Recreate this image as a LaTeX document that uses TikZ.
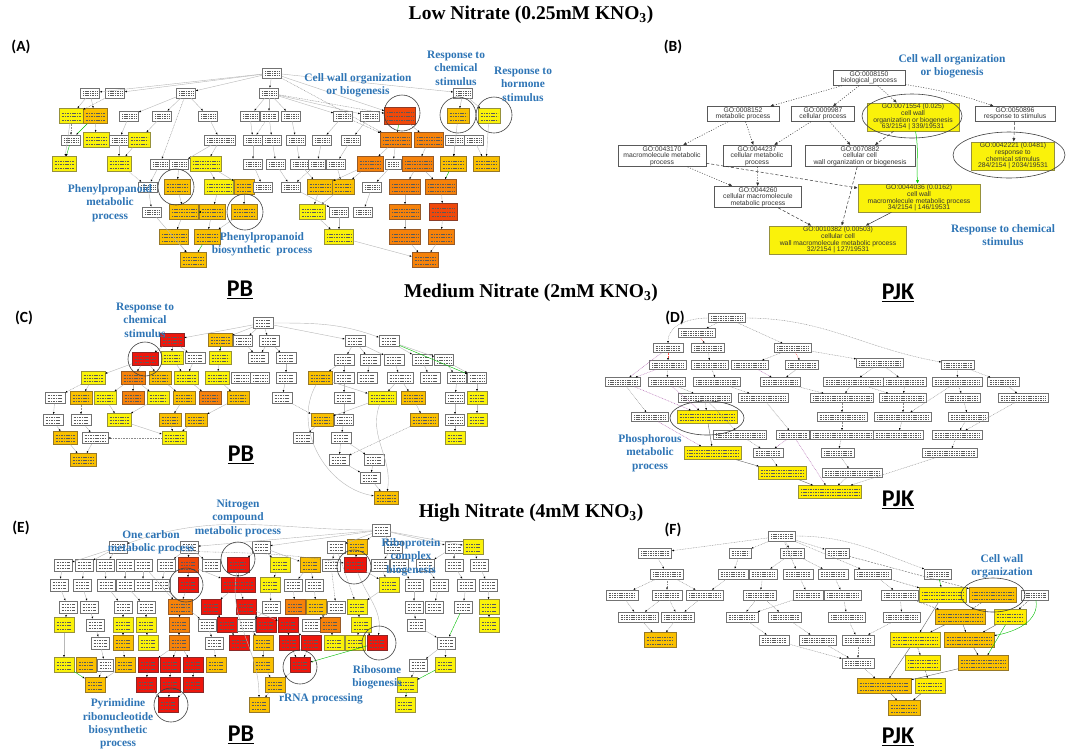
\documentclass[tikz,border=0pt]{standalone}
\usepackage{fontspec}
\setmainfont{Liberation Serif}
\newfontfamily\calib{Carlito}
\newfontfamily\arial{Liberation Sans}
\usetikzlibrary{arrows.meta,calc}
\definecolor{cY}{RGB}{250,242,10}
\definecolor{cYd}{RGB}{150,145,60}
\definecolor{cG}{RGB}{250,192,0}
\definecolor{cGd}{RGB}{150,120,40}
\definecolor{cO}{RGB}{246,130,10}
\definecolor{cOd}{RGB}{150,90,40}
\definecolor{cQ}{RGB}{240,72,10}
\definecolor{cQd}{RGB}{140,60,40}
\definecolor{cR}{RGB}{238,22,12}
\definecolor{cRd}{RGB}{140,40,40}
\definecolor{cB}{RGB}{46,117,182}
\definecolor{cT}{RGB}{90,90,90}
\newcommand\bfnt{\arial\fontsize{6.8}{6.6}\selectfont}
\newcommand\mknodes[1]{\foreach \n/\x/\y/\s/\w in {#1}{\edef\tmp{\noexpand\node[\s,minimum width=\w pt] (\n) at (\x,\y) {};}\tmp}}
\newcommand\mkedges[2]{\foreach \p/\q in {#2}{\draw[#1] (\p) -- (\q);}}
\begin{document}
\begin{tikzpicture}[x=1pt,y=-1pt,
 txtl/.style={draw=cT,line width=0.25pt,dash pattern=on 1.1pt off 0.6pt},
 txt/.style={path picture={
   \path (path picture bounding box.north west) coordinate (pnw) (path picture bounding box.south east) coordinate (pse);
   \foreach \f in {0.28,0.52,0.76}{\draw[txtl] ($(pnw)!\f!(pnw|-pse)+(2.5,0)$) -- ($(pse|-pnw)!\f!(pse)+(-2.5,0)$);}}},
 bx/.style={draw=black!55,line width=0.35pt,inner sep=0pt,minimum height=10pt,txt},
 nW/.style={bx,fill=white},
 nY/.style={bx,fill=cY,draw=cYd,minimum height=14pt},
 nG/.style={bx,fill=cG,draw=cGd,minimum height=14pt},
 nO/.style={bx,fill=cO,draw=cOd,minimum height=14pt},
 nQ/.style={bx,fill=cQ,draw=cQd,minimum height=17pt},
 nR/.style={bx,fill=cR,draw=cRd,minimum height=14pt},
 ge/.style={draw=black!28,line width=0.4pt,-{Latex[length=2.2pt,width=1.8pt,color=black]}},
 gd/.style={ge,draw=black!45,dash pattern=on 0.8pt off 0.8pt},
 gdk/.style={ge,draw=black!60,dash pattern=on 2pt off 1.2pt},
 gk/.style={ge,draw=black!60},
 gg/.style={ge,draw=green!75!black},
 gp/.style={gd,draw=violet!60},
 gr/.style={gd,draw=red!70},
 circ/.style={draw=black!75,line width=0.6pt},
 ttl/.style={font=\fontsize{19.5}{22}\selectfont\bfseries,inner sep=0pt},
 pbl/.style={font=\calib\bfseries\fontsize{24}{26}\selectfont,inner sep=0pt},
 plab/.style={font=\calib\bfseries\fontsize{15.5}{17}\selectfont,inner sep=0pt},
 blab/.style={font=\bfseries\fontsize{11.4}{13.4}\selectfont,text=cB,align=center,inner sep=0pt},
 bw/.style={draw=black!65,fill=white,line width=0.5pt,font=\bfnt,align=center,inner sep=1pt,text=black!80},
 by/.style={bw,fill=cY,draw=cYd},
 bdot/.style={draw=black!80,line width=0.5pt,dash pattern=on 1pt off 1.6pt,-{Latex[length=3.5pt,width=3pt]}},
 bdash/.style={bdot,dash pattern=on 3pt off 2pt},
 bsol/.style={bdot,solid},
 bgrn/.style={bsol,draw=green!80!black}]
\fill[white] (0,0) rectangle (1070,748);
\useasboundingbox (0,0) rectangle (1070,748);
% titles
\node[ttl] (t1) at (531,15) {Low Nitrate (0.25mM KNO\textsubscript{3})};
\node[ttl] (t2) at (531,293) {Medium Nitrate (2mM KNO\textsubscript{3})};
\node[ttl] (t3) at (531,513) {High Nitrate (4mM KNO\textsubscript{3})};
\node[pbl] (pb1) at (240,290) {\underline{PB}};
\node[pbl] (pj1) at (898,293) {\underline{PJK}};
\node[pbl] (pb2) at (241,455) {\underline{PB}};
\node[pbl] (pj2) at (898,500) {\underline{PJK}};
\node[pbl] (pb3) at (241,735) {\underline{PB}};
\node[pbl] (pj3) at (898,737) {\underline{PJK}};
\node[plab] (lA) at (21,47) {(A)};
\node[plab] (lB) at (673,47) {(B)};
\node[plab] (lC) at (24,318) {(C)};
\node[plab] (lD) at (675,318) {(D)};
\node[plab] (lE) at (21,528) {(E)};
\node[plab] (lF) at (673,530) {(F)};
% ---------------- panel A
\begin{scope}[nY/.append style={minimum height=15pt},nG/.append style={minimum height=15pt},nO/.append style={minimum height=15pt}]
\mknodes{a0/272/73/nW/19, a1/90/93/nW/19, a2/115/93/nW/19, a3/186/93/nW/19, a4/269/93/nW/19, a5/463/93/nW/19,
a6/71/116/nY/24, a7/95/116/nG/24, a8/129/116/nW/19, a9/162/116/nW/19, a10/208/116/nW/19, a11/250/116/nW/19, a12/269/116/nW/18, a13/291/116/nW/19, a14/343/116/nW/19, a15/370/116/nW/19, a16/400/116/nQ/31, a17/458/116/nG/22, a18/489/116/nY/22,
a19/71/140/nW/19, a20/96/140/nY/26, a21/119/140/nW/19, a22/139/140/nY/22, a23/220/140/nW/31, a24/253/140/nW/19, a25/272/140/nW/19, a26/296/140/nW/19, a27/322/140/nW/19, a28/351/140/nW/19, a29/396/140/nO/31, a30/429/140/nO/29, a31/455/140/nW/19, a32/474/140/nW/19,
a33/64/164/nY/24, a34/119/164/nY/24, a35/160/164/nW/19, a36/179/164/nW/19, a37/206/164/nY/31, a38/253/164/nW/19, a39/276/164/nW/19, a40/300/164/nW/19, a41/317/164/nW/17, a42/336/164/nW/19, a43/370/164/nO/26, a44/393/164/nW/16, a45/418/164/nO/31, a46/453/164/nG/26, a47/486/164/nG/26,
a48/148/187/nW/19, a49/177/187/nG/26, a50/219/187/nY/29, a51/244/187/nG/20, a52/263/187/nW/19, a53/291/187/nW/19, a54/320/187/nG/26, a55/343/187/nG/22, a56/372/187/nW/19, a57/405/187/nO/31, a58/441/187/nO/31,
a59/152/212/nW/19, a60/184/212/nG/29, a61/212/212/nG/26, a62/244/212/nG/26, a63/312/212/nY/26, a64/339/212/nW/19, a65/363/212/nW/19, a66/405/212/nO/31, a67/443/212/nQ/28,
a68/174/237/nG/29, a69/207/237/nG/26, a70/339/237/nY/29, a71/405/237/nO/31, a72/441/237/nO/26,
a73/193/260/nG/26, a74/425/260/nO/26}
\end{scope}
\mkedges{ge}{a0/a3, a0/a4, a0/a1, a0/a2, a0/a5, a0/a16, a1/a6, a1/a7, a3/a10, a3/a9, a3/a8, a4/a11, a4/a12, a4/a13, a4/a14, a4/a15, a5/a17, a5/a18, a7/a20, a6/a33, a8/a21, a9/a22, a21/a34, a22/a34, a10/a23, a11/a24, a12/a25, a13/a26, a14/a27, a15/a28, a16/a30, a17/a46, a18/a47, a23/a37, a23/a36, a24/a38, a25/a39, a26/a40, a27/a41, a28/a42, a29/a43, a30/a45, a29/a44, a35/a48, a36/a49, a37/a50, a37/a51, a38/a52, a39/a53, a40/a54, a42/a55, a43/a54, a43/a55, a44/a56, a45/a57, a45/a58, a48/a59, a49/a60, a50/a61, a51/a62, a54/a63, a55/a63, a56/a65, a53/a64, a57/a66, a58/a67, a60/a68, a61/a69, a62/a69, a63/a70, a64/a70, a66/a71, a67/a72, a68/a73, a71/a74, a72/a74, a70/a74, a59/a73, a31/a46, a32/a47}
\mkedges{gd}{a2/a6, a6/a19, a4/a16, a0/a29, a3/a35, a12/a24, a14/a29, a34/a48, a41/a53}
\mkedges{gg}{a19/a33, a7/a19, a16/a29, a46/a58, a69/a73, a61/a60}
\draw[circ] (402,113) circle[radius=18pt];
\draw[circ] (458,115) circle[radius=18pt];
\draw[circ] (494,115) circle[radius=18pt];
\draw[circ] (176,187) circle[radius=18pt];
\draw[circ] (245,212) circle[radius=18pt];
\node[blab] (la1) at (358,85) {Cell wall organization\\or biogenesis};
\node[blab] (la2) at (456,68) {Response to\\chemical\\stimulus};
\node[blab] (la3) at (523,84) {Response to\\hormone\\stimulus};
\node[blab] (la4) at (110,203) {Phenylpropanoid\\metabolic\\process};
\node[blab] (la5) at (262,244) {Phenylpropanoid\\biosynthetic\ \ process};
% ---------------- panel B
\node[bw,minimum width=72pt,minimum height=15pt] (b0) at (869,78) {GO:0008150\\biological\_process};
\node[bw,minimum width=72pt,minimum height=15pt] (b1) at (743,114) {GO:0008152\\metabolic process};
\node[bw,minimum width=63pt,minimum height=15pt] (b2) at (823,114) {GO:0009987\\cellular process};
\node[by,minimum width=92pt,minimum height=27pt] (b3) at (913,117) {GO:0071554 (0.025)\\cell wall\\organization or biogenesis\\63/2154 | 339/19531};
\node[bw,minimum width=80pt,minimum height=15pt] (b4) at (1015,114) {GO:0050896\\response to stimulus};
\node[bw,minimum width=88pt,minimum height=21pt] (b5) at (662,156) {GO:0043170\\macromolecule metabolic\\process};
\node[bw,minimum width=68pt,minimum height=21pt] (b6) at (757,156) {GO:0044237\\cellular metabolic\\process};
\node[bw,minimum width=110pt,minimum height=21pt] (b7) at (860,156) {GO:0070882\\cellular cell\\wall organization or biogenesis};
\node[by,minimum width=83pt,minimum height=27pt] (b8) at (1013,156) {GO:0042221 (0.0481)\\response to\\chemical stimulus\\284/2154 | 2034/19531};
\node[bw,minimum width=87pt,minimum height=21pt] (b9) at (758,197) {GO:0044260\\cellular macromolecule\\metabolic process};
\node[by,minimum width=122pt,minimum height=28pt] (b10) at (919,198) {GO:0044036 (0.0162)\\cell wall\\macromolecule metabolic process\\34/2154 | 146/19531};
\node[by,minimum width=137pt,minimum height=28pt] (b11) at (838,240) {GO:0010382 (0.00503)\\cellular cell\\wall macromolecule metabolic process\\32/2154 | 127/19531};
\mkedges{bdot}{b0/b1, b0/b2, b0/b3, b1/b5, b1/b6, b2/b6, b2/b7, b5/b9, b6/b9}
\draw[bdot] (b0) to[out=-10,in=160] (b4);
\mkedges{bdash}{b3/b7, b4/b8, b5/b10, b7/b11, b9/b11}
\mkedges{bsol}{b10/b11}
\draw[bgrn] (b3) to[out=-80,in=95] (b10);
\draw[circ] (912,116) ellipse[x radius=50pt,y radius=22pt];
\draw[circ] (1009,155) ellipse[x radius=56pt,y radius=23pt];
\node[blab] (lb1) at (952,66) {Cell wall organization\\or biogenesis};
\node[blab] (lb2) at (1003,235) {Response to chemical\\stimulus};
% ---------------- panel C
\begin{scope}[nW/.append style={minimum height=11pt},nY/.append style={minimum height=13pt},nG/.append style={minimum height=13pt},nO/.append style={minimum height=13pt},nR/.append style={minimum height=13pt}]
\mknodes{c0/263/323/nW/20, c1/172/340/nR/24, c2/220/340/nG/24, c3/243/341/nW/19, c4/269/341/nW/20, c5/355/341/nW/20, c6/389/341/nW/20,
c7/145/359/nR/26, c8/172/358/nY/22, c9/195/358/nW/20, c10/220/358/nY/22, c11/258/358/nW/20, c12/286/358/nW/20, c13/344/360/nW/20, c14/370/360/nW/20, c15/394/360/nW/20, c16/422/360/nW/20, c17/444/360/nW/19,
c18/93/378/nY/24, c19/133/378/nO/24, c20/160/378/nG/22, c21/186/378/nY/24, c22/217/378/nY/24, c23/241/378/nW/19, c24/260/378/nW/19, c25/286/378/nW/20, c26/320/378/nG/24, c27/344/378/nW/20, c28/367/378/nW/20, c29/400/378/nW/26, c30/430/378/nW/20, c31/457/378/nW/19, c32/477/378/nW/19,
c33/55/398/nW/20, c34/81/398/nG/22, c35/105/398/nY/22, c36/133/398/nO/22, c37/158/398/nY/22, c38/184/398/nG/22, c39/210/398/nO/22, c40/238/398/nG/22, c41/282/398/nW/20, c42/344/398/nW/20, c43/382/398/nY/28, c44/413/398/nG/24, c45/455/398/nW/19, c46/477/398/nY/20,
c47/53/420/nW/20, c48/81/420/nW/20, c49/119/420/nY/24, c50/170/420/nG/22, c51/196/420/nG/22, c52/322/420/nG/22, c53/344/420/nW/19, c54/424/420/nG/28, c55/455/420/nW/19, c56/477/420/nY/20,
c57/65/438/nG/24, c58/95/438/nW/26, c59/174/438/nY/24, c60/303/438/nW/20, c61/341/438/nW/20, c62/455/438/nY/20,
c63/83/460/nG/26, c64/339/460/nW/20, c65/374/460/nW/20, c66/370/478/nW/20, c67/386/498/nG/24}
\end{scope}
\mkedges{ge}{c0/c1, c0/c2, c0/c3, c0/c4, c0/c5, c1/c7, c1/c8, c1/c9, c4/c11, c4/c12, c5/c13, c5/c14, c5/c15, c6/c16, c6/c17, c7/c18, c7/c19, c7/c20, c8/c21, c9/c21, c10/c22, c12/c25, c13/c26, c13/c27, c14/c28, c15/c29, c16/c30, c17/c31, c17/c32, c18/c34, c19/c35, c19/c36, c19/c37, c20/c38, c21/c39, c22/c40, c25/c41, c26/c43, c27/c42, c29/c43, c29/c44, c31/c45, c32/c46, c33/c47, c35/c49, c37/c49, c38/c50, c40/c51, c42/c53, c43/c52, c44/c54, c45/c55, c49/c59, c50/c59, c51/c59, c52/c60, c53/c61, c57/c63, c58/c63, c61/c64, c61/c65, c64/c66, c65/c66, c66/c67, c55/c62, c46/c56}
\draw[ge] (c0) to[out=0,in=160] (c6);
\draw[ge] (c43) to[out=-110,in=80] (c67);
\draw[ge] (c26) to[out=-120,in=170] (c67);
\mkedges{gd}{c18/c33, c34/c48, c47/c57, c48/c58, c59/c58, c41/c52, c54/c64, c3/c11}
\mkedges{gg}{c2/c10, c6/c32}
\draw[circ] (145,359) circle[radius=17pt];
\node[blab] (lc1) at (145,320) {Response to\\chemical\\stimulus};
% ---------------- panel D
\begin{scope}[nW/.append style={minimum height=9pt},nY/.append style={minimum height=13pt,fill=yellow!95!orange}]
\mknodes{d0/727/318/nW/37, d1/697/333/nW/37, d2/668/348/nW/30, d3/708/348/nW/33, d4/793/348/nW/37, d5/668/365/nW/37, d6/710/365/nW/37, d7/750/365/nW/37, d8/802/365/nW/33, d9/880/363/nW/47, d10/958/365/nW/33, d11/623/382/nW/35, d12/667/382/nW/37, d13/717/382/nW/47, d14/780/382/nW/40, d15/853/382/nW/60, d16/905/382/nW/43, d17/957/382/nW/50, d18/1003/382/nW/32, d19/705/398/nW/53, d20/763/398/nW/50, d21/842/398/nW/63, d22/903/398/nW/47, d23/963/398/nW/35, d24/1023/398/nW/50, d25/650/417/nW/37, d26/707/417/nY/60, d27/842/417/nW/50, d28/903/417/nW/57, d29/968/417/nW/40, d30/740/435/nW/53, d31/793/435/nW/33, d32/842/435/nW/63, d33/898/435/nW/50, d34/957/435/nW/50, d35/713/453/nY/57, d36/768/453/nW/30, d37/838/453/nW/33, d38/950/453/nW/55, d39/782/473/nY/48, d40/852/473/nW/60, d41/830/492/nY/63}
\end{scope}
\mkedges{gd}{d0/d1, d0/d4, d3/d6, d4/d7, d4/d9, d9/d15, d9/d16, d10/d17, d10/d18, d5/d12, d6/d13, d8/d14, d12/d19, d13/d20, d14/d21, d15/d22, d16/d22, d17/d23, d18/d24, d19/d26, d11/d25, d21/d27, d22/d28, d23/d29, d19/d30, d20/d31, d27/d32, d28/d33, d29/d34, d30/d36, d32/d37, d34/d38, d36/d39, d37/d40, d40/d41, d38/d41, d24/d34, d15/d21, d17/d28}
\draw[gd] (d0) to[out=0,in=170] (d10);
\draw[gd] (d0) to[out=180,in=90] (d2);
\mkedges{gp}{d5/d11, d7/d14, d12/d26, d11/d26, d25/d35, d31/d36, d31/d41, d2/d11}
\mkedges{gr}{d1/d3, d4/d8, d2/d5}
\mkedges{gk}{d26/d35, d35/d39, d39/d41}
\draw[circ] (707,418) ellipse[x radius=37pt,y radius=17pt];
\node[blab] (ld1) at (650,453) {Phosphorous\\metabolic\\process};
% ---------------- panel E
\begin{scope}[nW/.append style={minimum height=12pt},nY/.append style={minimum height=15pt},nG/.append style={minimum height=15pt},nO/.append style={minimum height=15pt},nR/.append style={minimum height=15pt},nQ/.append style={minimum height=15pt}]
\mknodes{e0/381/530/nW/18,
e1/118/547/nW/18, e2/189/547/nW/18, e3/261/547/nW/18, e4/336/547/nW/18, e5/357/547/nG/20, e6/393/547/nW/18, e8/454/547/nW/18, e9/473/547/nY/20,
e10/63/565/nW/18, e11/84/565/nW/18, e12/105/565/nW/18, e13/125/565/nW/18, e14/143/565/nW/18, e15/166/565/nW/18, e16/188/565/nQ/20, e17/211/565/nW/18, e18/238/565/nR/22, e19/280/565/nY/20, e20/310/565/nG/20, e21/331/565/nW/18, e22/355/565/nR/22, e23/380/565/nW/18, e24/399/565/nW/18, e25/425/565/nW/18, e26/454/565/nW/18, e27/479/565/nW/18,
e28/59/585/nW/18, e29/82/585/nW/18, e30/106/585/nW/18, e31/125/585/nW/18, e32/143/585/nW/18, e108/161/585/nW/18, e33/188/585/nR/20, e34/238/585/nR/34, e35/270/585/nY/20, e36/293/585/nW/18, e37/314/585/nW/18, e38/389/585/nY/20, e39/414/585/nW/18, e40/439/585/nW/18, e41/466/585/nW/18, e42/488/585/nW/18,
e43/68/607/nW/18, e44/89/607/nW/18, e45/123/607/nW/18, e46/146/607/nW/18, e47/180/607/nO/24, e48/211/607/nR/20, e49/246/607/nR/20, e50/271/607/nW/18, e51/295/607/nO/20, e52/316/607/nG/20, e53/336/607/nW/18, e54/357/607/nY/20, e55/414/607/nW/18, e56/434/607/nW/18, e57/463/607/nW/18, e58/489/607/nY/20,
e59/64/625/nY/20, e60/95/625/nW/18, e61/123/625/nY/20, e62/146/625/nY/20, e63/179/625/nO/20, e64/207/625/nW/18, e65/227/625/nR/20, e66/246/625/nW/18, e67/266/625/nR/20, e68/288/625/nR/20, e69/311/625/nW/18, e70/330/625/nO/20, e71/361/625/nY/20, e72/416/625/nW/18, e73/489/625/nY/20,
e74/100/643/nW/18, e75/123/643/nG/20, e76/148/643/nY/20, e77/179/643/nO/20, e78/214/643/nW/18, e79/239/643/nR/20, e80/263/643/nG/20, e81/289/643/nR/20, e82/311/643/nR/20, e83/334/643/nY/20, e84/355/643/nY/20, e85/377/643/nR/20, e86/446/643/nW/18,
e87/64/665/nY/20, e88/86/665/nG/20, e89/105/665/nW/16, e90/125/665/nG/20, e91/148/665/nR/20, e92/170/665/nR/20, e93/193/665/nR/20, e94/216/665/nG/20, e95/263/665/nG/20, e96/300/665/nR/20, e97/418/665/nW/18, e98/445/665/nY/20,
e99/95/685/nG/20, e100/146/685/nR/20, e101/170/685/nR/20, e102/193/685/nR/20, e103/275/685/nG/20, e104/407/685/nY/20,
e105/168/705/nR/20, e106/259/705/nG/20, e107/405/705/nY/20}
\end{scope}
\mkedges{ge}{e0/e2, e0/e3, e0/e4, e0/e5, e0/e6, e0/e8, e0/e9, e1/e10, e1/e11, e1/e12, e2/e15, e2/e16, e2/e17, e3/e18, e3/e19, e3/e20, e4/e21, e5/e22, e6/e23, e6/e24, e8/e25, e8/e26, e9/e27, e10/e28, e11/e29, e12/e30, e13/e31, e14/e32, e15/e108, e16/e33, e18/e34, e16/e34, e19/e35, e20/e36, e20/e37, e22/e38, e24/e39, e25/e40, e26/e41, e27/e42, e28/e43, e29/e44, e30/e45, e31/e46, e33/e47, e34/e48, e34/e49, e35/e50, e36/e51, e37/e52, e38/e54, e39/e55, e40/e56, e41/e57, e42/e58, e44/e60, e45/e61, e46/e62, e47/e63, e48/e65, e49/e67, e49/e68, e50/e66, e52/e70, e53/e69, e54/e71, e55/e72, e58/e73, e60/e74, e61/e75, e62/e76, e63/e77, e64/e78, e65/e79, e66/e80, e68/e81, e68/e82, e70/e83, e71/e84, e71/e85, e72/e86, e59/e87, e74/e89, e75/e90, e77/e91, e77/e92, e77/e93, e78/e94, e80/e95, e81/e96, e82/e96, e86/e97, e86/e98, e89/e99, e90/e99, e91/e100, e92/e101, e93/e102, e95/e103, e96/e103, e97/e104, e101/e105, e100/e105, e102/e105, e103/e106}
\draw[ge] (e0) to[out=180,in=20] (e1);
\draw[ge] (e18) to[out=-100,in=90] (e106);
\draw[ge] (e22) to[out=-70,in=80] (e85);
\mkedges{gd}{e43/e59, e108/e64, e21/e53, e23/e38, e4/e54, e14/e47}
\draw[gd] (e1) to[out=-5,in=170] (e22);
\mkedges{gg}{e85/e96, e87/e99, e98/e104, e104/e107, e57/e86}
\draw[circ] (238,559) circle[radius=17pt];
\draw[circ] (186,585) circle[radius=17pt];
\draw[circ] (354,567) circle[radius=17pt];
\draw[circ] (379,643) circle[radius=17pt];
\draw[circ] (300,667) circle[radius=17pt];
\draw[circ] (171,705) circle[radius=17pt];
\node[blab] (le1) at (238,518) {Nitrogen\\compound\\metabolic process};
\node[blab] (le2) at (151,542) {One carbon\\metabolic process};
\node[blab] (le3) at (411,557) {Riboprotein\\complex\\biogenesis};
\node[blab] (le4) at (377,677) {Ribosome\\biogenesis};
\node[blab] (le5) at (321,699) {rRNA processing};
\node[blab] (le6) at (118,724) {Pyrimidine\\ribonucleotide\\biosynthetic\\process};
% ---------------- panel F
\begin{scope}[nW/.append style={minimum height=10pt},nY/.append style={minimum height=15pt,fill=yellow!95!orange},nG/.append style={minimum height=15pt}]
\mknodes{f0/782/536/nW/27, f1/655/553/nW/33, f2/740/553/nW/22, f3/792/553/nW/24, f4/837/553/nW/24,
f5/667/574/nW/33, f6/733/574/nW/30, f7/763/574/nW/28, f8/798/574/nW/30, f9/833/574/nW/30, f10/873/574/nW/37, f11/938/574/nW/27,
f12/622/595/nW/32, f13/667/595/nW/30, f14/705/595/nW/37, f15/760/595/nW/33, f16/808/595/nW/30, f17/843/595/nW/37, f18/900/595/nW/37, f19/943/595/nY/47, f20/993/595/nG/47, f21/1035/595/nW/27,
f22/638/617/nW/40, f23/678/617/nW/33, f24/742/617/nW/32, f25/785/617/nW/33, f26/847/617/nW/37, f27/902/617/nW/37, f28/960/617/nG/50, f29/1010/617/nY/32,
f30/660/640/nG/32, f31/774/640/nW/30, f32/818/640/nW/37, f33/858/640/nW/32, f34/915/640/nY/50, f35/969/640/nG/50,
f36/858/663/nW/32, f37/923/663/nY/35, f38/983/663/nG/50,
f39/884/686/nG/54, f40/930/686/nY/30, f41/904/708/nG/32}
\end{scope}
\mkedges{gd}{f0/f1, f0/f2, f0/f3, f0/f4, f0/f8, f0/f10, f1/f5, f2/f6, f3/f7, f3/f9, f5/f12, f5/f13, f5/f14, f6/f14, f7/f15, f8/f16, f9/f17, f10/f18, f12/f22, f13/f22, f13/f23, f14/f23, f15/f24, f15/f25, f16/f24, f17/f26, f18/f27, f22/f30, f23/f30, f24/f31, f25/f32, f26/f33, f27/f33, f31/f36, f32/f36, f33/f36, f36/f39}
\draw[gd] (f0) to[out=0,in=160] (f11);
\mkedges{gdk}{f4/f20, f10/f19, f18/f28, f20/f28, f21/f29, f37/f40, f34/f37}
\mkedges{gk}{f19/f34, f28/f34, f29/f35, f34/f39, f35/f38, f38/f39, f39/f41, f40/f41, f28/f35}
\mkedges{gg}{f11/f19, f29/f38}
\draw[gg] (f21) to[out=-80,in=10] (f35);
\draw[circ] (993,595) ellipse[x radius=32pt,y radius=17pt];
\node[blab] (lf1) at (1002,566) {Cell wall\\organization};
\end{tikzpicture}
\end{document}
